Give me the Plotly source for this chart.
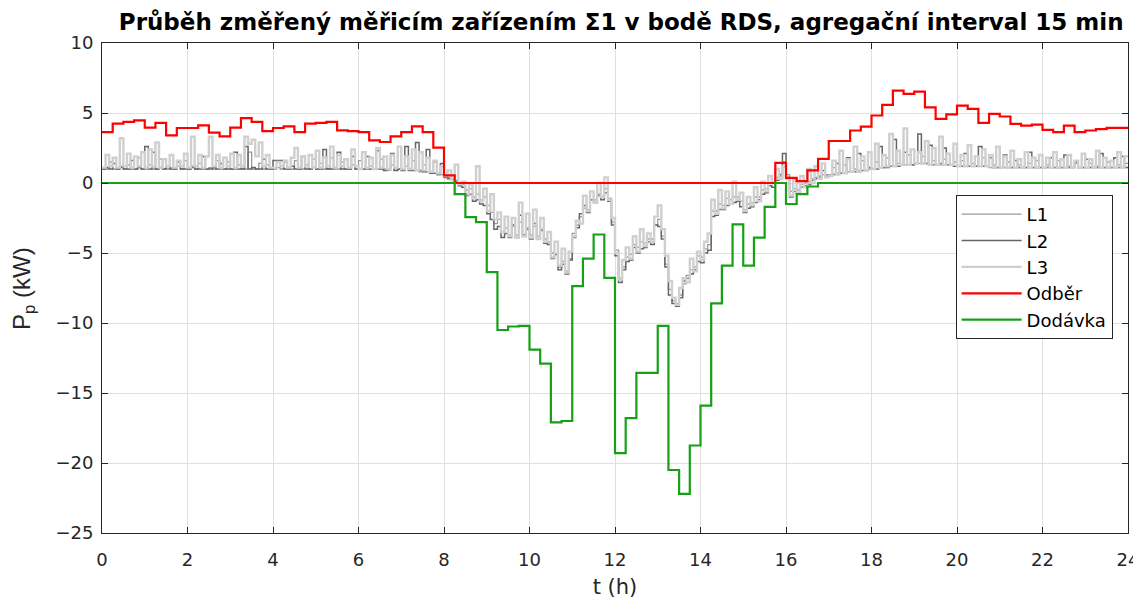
import plotly.graph_objects as go

# ---------------- data ----------------
# 15-min aggregated values (value at start of each interval), 96 intervals
odber = [3.64, 4.24, 4.36, 4.48,  3.95, 4.29, 3.40, 3.93,
         3.93, 4.12, 3.60, 3.33,  3.95, 4.64, 4.36, 3.71,
         3.93, 4.05, 3.64, 4.24,  4.29, 4.36, 3.76, 3.71,
         3.64, 3.05, 2.93, 3.33,  3.64, 4.05, 3.64, 2.52,
         0.55, 0, 0, 0,  0, 0, 0, 0,
         0, 0, 0, 0,  0, 0, 0, 0,
         0, 0, 0, 0,  0, 0, 0, 0,
         0, 0, 0, 0,  0, 0, 0, 1.44,
         0.37, 0.13, 0.90, 1.73,  3.00, 3.00, 3.75, 4.03,
         4.82, 5.58, 6.60, 6.37,  6.53, 5.40, 4.58, 4.90,
         5.53, 5.30, 4.30, 4.94,  4.75, 4.22, 4.10, 4.17,
         3.80, 3.63, 4.10, 3.63,  3.75, 3.85, 3.94, 3.94]

dodavka = [0, 0, 0, 0,  0, 0, 0, 0,
           0, 0, 0, 0,  0, 0, 0, 0,
           0, 0, 0, 0,  0, 0, 0, 0,
           0, 0, 0, 0,  0, 0, 0, 0,
           0, -0.8, -2.44, -2.8,  -6.37, -10.5, -10.25, -10.2,
           -11.9, -12.9, -17.1, -17.0,  -7.37, -5.4, -3.68, -6.77,
           -19.3, -16.8, -13.56, -13.56,  -10.2, -20.5, -22.2, -18.75,
           -15.9, -8.6, -5.9, -2.96,  -5.9, -3.9, -1.7, 0,
           -1.5, -0.8, -0.25, 0,  0, 0, 0, 0,
           0, 0, 0, 0,  0, 0, 0, 0,
           0, 0, 0, 0,  0, 0, 0, 0,
           0, 0, 0, 0,  0, 0, 0, 0]

# 5-min phase values, one row per hour (12 values each)
L1_rows = [
    [1.0, 1.0, 1.5, 1.0, 1.0, 1.2, 1.0, 1.3, 1.0, 1.0, 1.8, 1.0],
    [1.0, 1.3, 1.0, 1.0, 1.7, 1.0, 1.0, 1.1, 1.0, 1.2, 1.0, 1.6],
    [1.0, 1.2, 1.0, 1.4, 1.0, 1.0, 1.1, 1.0, 1.6, 1.0, 1.0, 1.5],
    [1.0, 1.0, 1.3, 1.0, 1.0, 2.2, 1.0, 1.0, 1.4, 1.0, 1.3, 1.0],
    [1.0, 1.1, 1.0, 1.5, 1.0, 1.0, 1.6, 1.0, 1.0, 1.3, 1.0, 1.7],
    [1.0, 1.4, 1.0, 1.0, 1.8, 1.0, 1.0, 1.5, 1.0, 1.0, 1.3, 1.0],
    [1.6, 1.0, 1.0, 1.2, 1.0, 1.0, 1.7, 1.0, 0.9, 1.3, 0.9, 1.0],
    [0.9, 1.2, 0.9, 1.6, 0.9, 0.8, 1.3, 0.8, 0.7, 1.5, 0.6, 0.6],
    [0.5, 0.4, 0.3, 0.2, 0.0, -0.1, -0.5, -0.4, -1.0, -0.8, -1.2, -1.0],
    [-1.6, -2.1, -2.9, -2.6, -3.5, -3.2, -3.7, -3.1, -3.7, -2.8, -3.8, -3.2],
    [-3.7, -3.1, -3.8, -3.3, -4.0, -4.2, -5.0, -5.1, -6.0, -5.6, -6.3, -5.4],
    [-3.6, -3.0, -2.4, -1.8, -1.9, -1.2, -1.2, -0.8, -1.0, -0.4, -1.1, -2.8],
    [-4.8, -6.8, -6.0, -5.3, -5.1, -4.4, -4.6, -4.2, -4.3, -4.0, -4.0, -3.0],
    [-2.6, -3.8, -5.8, -7.6, -8.4, -8.6, -8.0, -7.2, -6.6, -6.2, -6.0, -5.2],
    [-5.3, -4.7, -4.4, -2.0, -2.0, -1.5, -1.6, -1.1, -1.2, -1.0, -1.0, -1.3],
    [-1.9, -1.5, -1.4, -1.0, -1.0, -0.5, -0.4, 0.0, 0.0, 0.4, 0.5, 1.5],
    [0.6, -0.6, -0.4, -0.5, -0.1, 0.0, 0.1, 0.3, 0.4, 0.5, 0.6, 0.6],
    [0.6, 1.1, 0.7, 0.7, 1.3, 0.8, 0.8, 1.0, 0.9, 1.6, 0.9, 1.0],
    [1.0, 1.5, 1.1, 1.1, 1.8, 1.2, 1.2, 1.4, 1.3, 1.3, 2.0, 1.3],
    [1.4, 1.4, 1.9, 1.4, 1.3, 1.6, 1.3, 1.3, 1.7, 1.3, 1.3, 1.5],
    [1.2, 1.6, 1.2, 1.2, 1.4, 1.2, 1.2, 1.8, 1.2, 1.1, 1.3, 1.1],
    [1.1, 1.1, 1.5, 1.1, 1.1, 1.3, 1.1, 1.1, 1.4, 1.1, 1.6, 1.1],
    [1.1, 1.3, 1.1, 1.1, 1.6, 1.1, 1.1, 1.2, 1.1, 1.4, 1.1, 1.1],
    [1.1, 1.4, 1.1, 1.2, 1.1, 1.1, 1.5, 1.1, 1.1, 1.3, 1.1, 1.4],
]

L2_rows = [
    [1.0, 1.1, 1.0, 1.4, 1.0, 1.1, 1.0, 1.0, 1.6, 1.0, 1.1, 1.0],
    [2.6, 1.0, 2.2, 1.0, 1.1, 1.0, 1.2, 1.0, 1.0, 1.5, 1.0, 1.0],
    [1.0, 1.1, 1.0, 1.0, 1.9, 1.0, 1.0, 1.1, 1.0, 1.4, 1.0, 1.0],
    [1.0, 2.2, 1.0, 1.0, 2.6, 1.0, 1.1, 1.0, 1.0, 1.7, 1.0, 1.0],
    [1.6, 1.6, 1.6, 1.0, 1.0, 1.2, 1.0, 1.0, 1.9, 1.0, 1.0, 1.1],
    [1.0, 1.0, 2.4, 1.0, 1.0, 1.1, 2.2, 1.0, 1.0, 1.0, 1.9, 1.0],
    [1.0, 1.0, 1.9, 1.0, 1.0, 2.3, 1.0, 0.9, 1.0, 2.1, 0.9, 1.0],
    [0.9, 2.6, 0.9, 0.9, 2.9, 0.9, 0.8, 2.4, 0.7, 0.7, 0.6, 1.4],
    [0.4, 0.3, 0.2, 0.1, -0.2, -0.3, -0.9, -0.8, -1.3, -1.2, -1.5, -1.6],
    [-2.2, -2.6, -3.3, -3.1, -3.9, -3.6, -3.9, -3.0, -3.9, -2.3, -3.7, -3.3],
    [-4.0, -2.9, -4.0, -3.4, -4.3, -4.4, -5.4, -5.1, -6.2, -5.8, -6.5, -5.5],
    [-3.9, -3.2, -2.2, -1.6, -2.1, -1.2, -1.4, -0.9, -1.2, -0.7, -1.3, -3.0],
    [-5.2, -7.1, -6.2, -5.6, -5.5, -4.6, -5.0, -4.7, -4.6, -4.2, -4.4, -3.0],
    [-3.1, -4.0, -6.0, -8.0, -8.6, -8.8, -8.2, -7.0, -6.8, -6.5, -6.2, -5.6],
    [-5.7, -5.0, -4.8, -2.4, -2.3, -1.9, -1.9, -1.6, -1.5, -1.4, -1.3, -1.7],
    [-2.1, -1.8, -1.7, -1.4, -1.2, -0.8, -0.7, -0.2, -0.3, 0.2, 0.6, 2.1],
    [0.4, -1.0, -0.6, -0.8, -0.3, -0.2, -0.1, 0.2, 0.3, 0.4, 0.9, 0.5],
    [0.5, 0.6, 1.4, 0.7, 0.7, 1.8, 0.8, 0.8, 2.1, 0.9, 0.9, 1.1],
    [1.0, 1.0, 2.6, 1.1, 1.1, 1.2, 3.1, 1.2, 1.3, 2.2, 1.3, 1.3],
    [1.4, 3.5, 1.4, 1.4, 2.7, 1.3, 1.3, 1.4, 2.5, 1.3, 1.3, 1.2],
    [1.2, 1.2, 2.1, 1.2, 1.2, 1.2, 2.6, 1.2, 1.2, 1.8, 1.1, 1.1],
    [1.1, 2.0, 1.1, 1.1, 1.6, 1.1, 1.1, 1.1, 2.2, 1.1, 1.1, 1.1],
    [1.1, 1.1, 1.8, 1.1, 1.1, 1.1, 2.0, 1.1, 1.1, 1.5, 1.1, 1.1],
    [1.7, 1.1, 1.1, 1.1, 2.1, 1.1, 1.1, 1.1, 1.8, 1.1, 1.9, 1.1],
]

L3_rows = [
    [1.1, 2.0, 1.2, 1.8, 1.1, 3.2, 1.2, 2.1, 1.1, 1.9, 1.2, 2.2],
    [1.1, 2.4, 1.2, 2.9, 1.1, 1.7, 1.2, 2.0, 1.1, 1.6, 1.2, 2.1],
    [1.1, 3.3, 1.2, 2.0, 1.1, 1.9, 3.3, 1.2, 2.0, 1.1, 1.8, 1.2],
    [2.1, 1.1, 2.0, 1.2, 3.3, 2.8, 3.1, 1.9, 2.9, 1.2, 2.0, 1.1],
    [1.1, 1.5, 1.2, 1.6, 1.1, 1.8, 2.5, 1.1, 1.9, 1.2, 2.0, 1.1],
    [2.3, 1.1, 1.8, 1.2, 2.6, 1.1, 2.0, 1.2, 1.7, 1.1, 2.4, 1.2],
    [1.0, 2.2, 1.1, 1.8, 1.0, 2.5, 1.1, 1.9, 1.0, 2.0, 1.1, 2.6],
    [1.0, 1.9, 1.0, 2.4, 0.9, 2.2, 0.9, 1.8, 0.8, 1.6, 0.7, 1.2],
    [0.5, 0.9, 0.2, 1.3, -0.1, 0.1, -0.8, -0.1, -1.1, 1.2, -1.3, -0.4],
    [-2.0, -0.8, -2.6, -2.1, -3.5, -2.4, -3.8, -2.5, -3.9, -1.4, -3.8, -2.2],
    [-3.9, -1.9, -4.0, -2.5, -4.2, -3.5, -5.3, -4.2, -5.9, -4.7, -6.4, -4.9],
    [-3.8, -2.7, -2.9, -0.9, -2.0, -0.6, -1.4, 0.0, -1.0, 0.4, -1.2, -2.5],
    [-5.0, -6.9, -5.5, -4.6, -5.4, -3.8, -4.9, -3.3, -4.5, -3.6, -4.2, -2.4],
    [-1.6, -3.3, -5.2, -7.0, -8.2, -8.7, -7.5, -6.8, -7.1, -5.4, -6.3, -4.9],
    [-5.5, -4.2, -3.6, -1.2, -2.2, -0.5, -1.8, -0.6, -1.5, 0.1, -1.2, -0.7],
    [-2.0, -1.0, -1.6, -0.3, -1.3, 0.1, -0.6, 0.5, 0.0, 1.0, 0.3, 1.2],
    [0.3, -0.9, 0.2, -0.7, 0.5, -0.3, 1.0, 0.0, 1.2, 0.3, 1.4, 0.4],
    [0.5, 1.6, 0.6, 2.3, 0.7, 1.7, 0.8, 2.6, 0.8, 1.9, 0.9, 2.2],
    [1.0, 2.8, 1.1, 2.0, 1.2, 3.5, 1.2, 2.3, 1.3, 3.9, 1.3, 2.4],
    [1.4, 2.2, 1.4, 3.0, 1.3, 2.5, 1.3, 3.3, 1.3, 2.1, 1.3, 2.8],
    [1.2, 2.0, 1.2, 2.7, 1.2, 1.9, 1.2, 2.4, 1.2, 2.0, 1.1, 2.6],
    [1.1, 1.9, 1.1, 2.3, 1.1, 1.7, 1.1, 2.2, 1.1, 1.8, 1.1, 2.0],
    [1.1, 1.8, 1.1, 2.2, 1.1, 1.7, 1.1, 2.0, 1.1, 1.6, 1.1, 2.1],
    [1.1, 1.7, 1.1, 2.3, 1.1, 1.8, 1.1, 1.6, 1.1, 2.2, 1.1, 1.9],
]

x_ticks = [0, 2, 4, 6, 8, 10, 12, 14, 16, 18, 20, 22, 24]
y_ticks = [-25, -20, -15, -10, -5, 0, 5, 10]

# ---------------- build ----------------
def flat(rows):
    return [v for r in rows for v in r]

t15 = [i * 0.25 for i in range(len(odber))] + [24]
t5 = [k / 12 for k in range(24 * 12)] + [24]

FONT = "DejaVu Sans, Liberation Sans, Arial, sans-serif"
FONT_Y = "Liberation Sans, Arial, Helvetica, sans-serif"
fig = go.Figure()

for name, rows, col, w in [("L1", L1_rows, "#9a9a9a", 1.3),
                           ("L2", L2_rows, "#666666", 1.5),
                           ("L3", L3_rows, "#cfcfcf", 2.4)]:
    vals = flat(rows)
    fig.add_trace(go.Scatter(x=t5, y=vals + [vals[-1]], mode="lines", name=name,
                             line=dict(color=col, width=w, shape="hv")))

fig.add_trace(go.Scatter(x=t15, y=odber + [odber[-1]], mode="lines", name="Odběr",
                         line=dict(color="#ff0000", width=2.2, shape="hv")))
fig.add_trace(go.Scatter(x=t15, y=dodavka + [dodavka[-1]], mode="lines", name="Dodávka",
                         line=dict(color="#16a016", width=2.2, shape="hv")))

axis_common = dict(showgrid=True, gridcolor="#dfdfdf", gridwidth=1, automargin=False,
                   showline=True, linecolor="#262626", linewidth=1, mirror="ticks",
                   ticks="inside", ticklen=6, tickcolor="#262626", tickwidth=1,
                   zeroline=False, tickfont=dict(family=FONT, size=18, color="#262626"))

fig.update_xaxes(range=[0, 24], tickvals=x_ticks, ticklabelstandoff=10, **axis_common,
                 title=dict(text="t (h)", font=dict(family=FONT, size=21, color="#262626"),
                            standoff=12))
fig.update_yaxes(range=[-25, 10], tickvals=y_ticks, ticklabelstandoff=4, **axis_common)

fig.add_annotation(text="P<sub>p</sub> (kW)", textangle=-90, xref="paper", yref="paper",
                   x=-0.077, y=0.5, xanchor="center", yanchor="middle", showarrow=False,
                   font=dict(family=FONT_Y, size=24, color="#262626"))

# page body has an 8px margin, so the figure is sized/offset to match the 1141x599 view
fig.update_layout(
    width=1133, height=591,
    margin=dict(l=94, r=13, t=35, b=66),
    paper_bgcolor="white", plot_bgcolor="white",
    title=dict(text="<b>Průběh změřený měřicím zařízením Σ1 v bodě RDS, agregační interval 15 min</b>",
               x=0.506, xref="paper", xanchor="center", y=0.976, yref="container", yanchor="middle",
               font=dict(family=FONT, size=23, color="#000000")),
    legend=dict(x=0.985, y=0.69, xanchor="right", yanchor="top",
                bgcolor="white", bordercolor="#262626", borderwidth=1,
                font=dict(family=FONT, size=18, color="#000000"),
                itemwidth=60, tracegroupgap=0),
    showlegend=True,
)

fig.write_html("out.html")
